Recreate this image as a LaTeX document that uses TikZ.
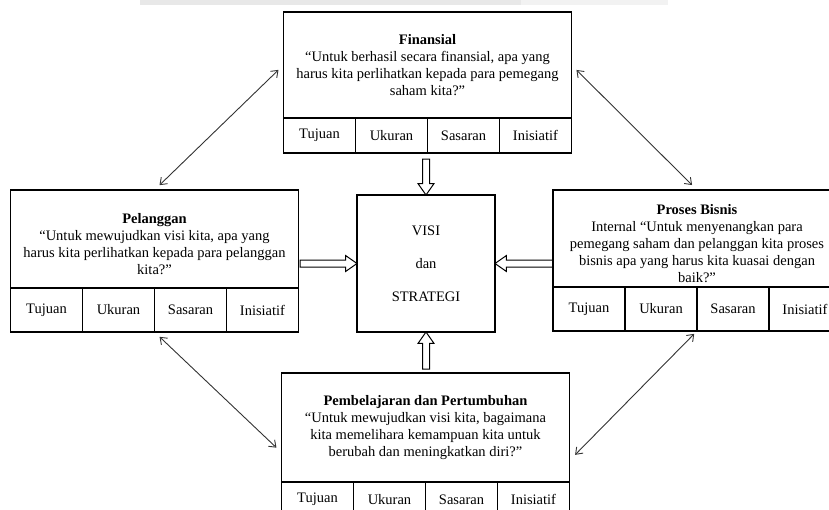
\documentclass[tikz,border=0pt]{standalone}
\usepackage{fontspec}
\setmainfont{Liberation Serif}
\usetikzlibrary{positioning}
\usetikzlibrary{shapes.arrows}
\usetikzlibrary{arrows.meta}

\begin{document}
\begin{tikzpicture}[x=1pt, y=-1pt,
    box/.style={draw, line width=1.6pt, outer sep=0pt, minimum width=288pt, align=center, inner sep=2pt, font=\fontsize{14.5}{17}\selectfont},
    cell/.style={draw, line width=1.6pt, outer sep=0pt, minimum width=72pt, inner sep=0pt, font=\fontsize{14.5}{17}\selectfont},
    hollow/.style={single arrow, draw, line width=1pt, minimum height=#1, minimum width=16pt, single arrow head extend=4.5pt, single arrow tip angle=70, inner xsep=0pt, inner ysep=3pt, outer sep=0pt},
    upright/.style={inner xsep=3pt, inner ysep=0pt},
    link/.style={{Straight Barb[length=6pt,width=9pt]}-{Straight Barb[length=6pt,width=9pt]}, draw=black!80, line width=0.9pt, shorten <=7pt, shorten >=7pt}]
    \useasboundingbox (0,0) rectangle (829,509);
    \clip (0,0) rectangle (829,509);
    %\fill[black!8] (140,0) rectangle (521,5);
    \fill[black!9] (140,0) rectangle (521,5);
    \fill[black!5] (521,0) rectangle (668,5);
    \node[box, minimum height=106pt] (fin) at (427.5,65) {\textbf{Finansial}\\``Untuk berhasil secara finansial, apa yang\\harus kita perlihatkan kepada para pemegang\\saham kita?''};
    \node[box, minimum height=98pt] (pel) at (154.5,239) {\rule{0pt}{21pt}\textbf{Pelanggan}\\``Untuk mewujudkan visi kita, apa yang\\harus kita perlihatkan kepada para pelanggan\\kita?''};
    \node[box, minimum height=97pt] (pro) at (697,238.5) {\rule{0pt}{21pt}\textbf{Proses Bisnis}\\Internal ``Untuk menyenangkan para\\pemegang saham dan pelanggan kita proses\\bisnis apa yang harus kita kuasai dengan\\baik?''};
    \node[box, minimum height=109pt] (pem) at (425.5,427.5) {\textbf{Pembelajaran dan Pertumbuhan}\\``Untuk mewujudkan visi kita, bagaimana\\kita memelihara kemampuan kita untuk\\berubah dan meningkatkan diri?''};
    \foreach \b/\h in {fin/35pt,pel/44pt,pro/44pt,pem/35pt}{
        \node[cell, minimum height=\h, anchor=north west] (\b1) at (\b.south west) {Tujuan};
        \node[cell, minimum height=\h, right=0pt of \b1] (\b2) {Ukuran};
        \node[cell, minimum height=\h, right=0pt of \b2] (\b3) {Sasaran};
        \node[cell, minimum height=\h, right=0pt of \b3] (\b4) {Inisiatif};
    }
    \node[box, minimum width=138pt, minimum height=137pt, font=\fontsize{14.5}{33}\selectfont] (vis) at (426,263.5) {VISI\\dan\\STRATEGI};
    \node[hollow=36pt, upright, shape border rotate=270, anchor=tip] (upar) at (vis.north) {};
    \node[hollow=57pt, anchor=tip] (lfar) at (vis.west) {};
    \node[hollow=58pt, shape border rotate=180, anchor=tip] (rtar) at (vis.east) {};
    \node[hollow=37pt, upright, shape border rotate=90, anchor=tip] (dnar) at (vis.south) {};
    \draw[link] (pel.north) -- (fin.west);
    \draw[link] (fin.east) -- (pro.north);
    \draw[link] (pel2.south east) -- ([yshift=-25pt]pem.west);
    \draw[link, shorten <=4pt, shorten >=8pt] (pro2.south east) -- ([yshift=-33pt]pem.east);
\end{tikzpicture}
\end{document}
